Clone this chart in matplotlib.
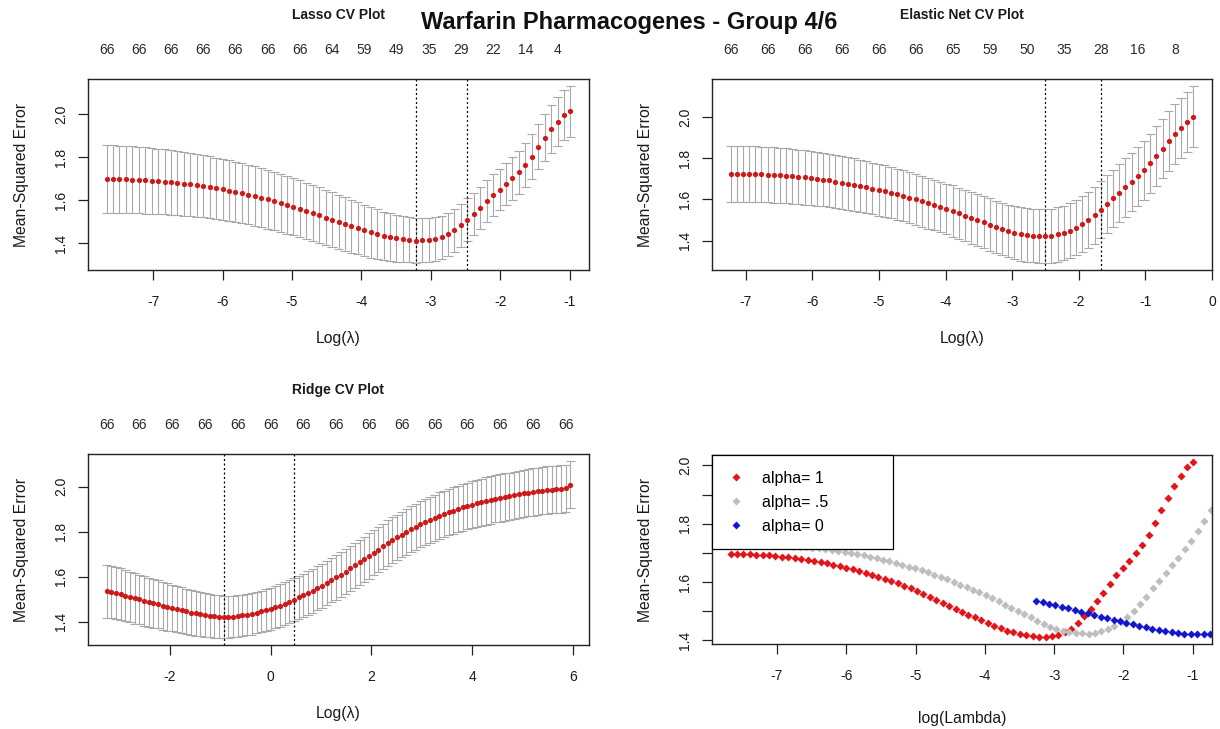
import matplotlib
matplotlib.use("Agg")
import matplotlib.pyplot as plt
import numpy as np
from matplotlib.ticker import FormatStrFormatter

plt.rcParams['font.family'] = ['Liberation Sans', 'DejaVu Sans']
plt.rcParams['axes.unicode_minus'] = False

# ---------------- data ----------------
LASSO_LOGLAM = [-7.670, -7.577, -7.484, -7.392, -7.299, -7.206, -7.113, -7.021, -6.928, -6.835,
                -6.742, -6.649, -6.557, -6.464, -6.371, -6.278, -6.186, -6.093, -6.000, -5.907,
                -5.814, -5.722, -5.629, -5.536, -5.443, -5.351, -5.258, -5.165, -5.072, -4.979,
                -4.887, -4.794, -4.701, -4.608, -4.515, -4.423, -4.330, -4.237, -4.144, -4.052,
                -3.959, -3.866, -3.773, -3.680, -3.588, -3.495, -3.402, -3.309, -3.217, -3.124,
                -3.031, -2.938, -2.845, -2.753, -2.660, -2.567, -2.474, -2.382, -2.289, -2.196,
                -2.103, -2.010, -1.918, -1.825, -1.732, -1.639, -1.546, -1.454, -1.361, -1.268,
                -1.175, -1.082, -0.990]
LASSO_CVM = [1.697, 1.697, 1.697, 1.696, 1.694, 1.693, 1.691, 1.689, 1.687, 1.685,
             1.682, 1.679, 1.675, 1.672, 1.668, 1.664, 1.659, 1.654, 1.649, 1.643,
             1.637, 1.631, 1.625, 1.618, 1.611, 1.603, 1.595, 1.587, 1.578, 1.569,
             1.559, 1.549, 1.539, 1.529, 1.518, 1.508, 1.498, 1.488, 1.478, 1.468,
             1.458, 1.449, 1.441, 1.433, 1.427, 1.422, 1.418, 1.415, 1.411, 1.412,
             1.413, 1.418, 1.427, 1.440, 1.459, 1.482, 1.508, 1.534, 1.563, 1.594,
             1.623, 1.648, 1.673, 1.700, 1.728, 1.763, 1.802, 1.848, 1.890, 1.930,
             1.965, 1.996, 2.012]
LASSO_CVSD = [0.157, 0.157, 0.156, 0.156, 0.155, 0.155, 0.154, 0.153, 0.152, 0.151,
              0.150, 0.149, 0.148, 0.147, 0.146, 0.145, 0.144, 0.143, 0.142, 0.141,
              0.140, 0.139, 0.139, 0.138, 0.137, 0.137, 0.136, 0.135, 0.135, 0.134,
              0.133, 0.132, 0.131, 0.130, 0.129, 0.128, 0.126, 0.125, 0.123, 0.121,
              0.119, 0.117, 0.115, 0.113, 0.111, 0.109, 0.107, 0.105, 0.104, 0.103,
              0.102, 0.101, 0.100, 0.100, 0.099, 0.099, 0.099, 0.098, 0.098, 0.097,
              0.097, 0.097, 0.098, 0.099, 0.100, 0.102, 0.104, 0.106, 0.108, 0.111,
              0.114, 0.116, 0.118]
LASSO_NZ = ['66', '66', '66', '66', '66', '66', '66', '64', '59', '49', '35', '29', '22', '14', '4']
LASSO_MIN_IDX, LASSO_1SE_IDX = 48, 56

ENET_LOGLAM = [-7.230, -7.137, -7.045, -6.952, -6.859, -6.767, -6.674, -6.581, -6.489, -6.396,
               -6.303, -6.211, -6.118, -6.025, -5.933, -5.840, -5.747, -5.655, -5.562, -5.469,
               -5.377, -5.284, -5.191, -5.099, -5.006, -4.913, -4.821, -4.728, -4.635, -4.543,
               -4.450, -4.357, -4.265, -4.172, -4.079, -3.987, -3.894, -3.801, -3.709, -3.616,
               -3.523, -3.431, -3.338, -3.245, -3.153, -3.060, -2.967, -2.875, -2.782, -2.689,
               -2.597, -2.504, -2.411, -2.319, -2.226, -2.133, -2.041, -1.948, -1.855, -1.763,
               -1.670, -1.577, -1.485, -1.392, -1.299, -1.207, -1.114, -1.021, -0.929, -0.836,
               -0.743, -0.651, -0.558, -0.465, -0.373, -0.280]
ENET_CVM = [1.724, 1.724, 1.724, 1.723, 1.722, 1.721, 1.720, 1.719, 1.717, 1.715,
            1.713, 1.710, 1.707, 1.704, 1.700, 1.696, 1.692, 1.687, 1.682, 1.677,
            1.671, 1.665, 1.659, 1.653, 1.647, 1.640, 1.633, 1.625, 1.617, 1.609,
            1.600, 1.591, 1.582, 1.573, 1.564, 1.554, 1.544, 1.533, 1.522, 1.511,
            1.500, 1.489, 1.478, 1.467, 1.457, 1.447, 1.439, 1.432, 1.428, 1.425,
            1.424, 1.423, 1.425, 1.430, 1.438, 1.449, 1.463, 1.480, 1.500, 1.523,
            1.550, 1.578, 1.605, 1.632, 1.658, 1.684, 1.712, 1.742, 1.775, 1.810,
            1.847, 1.883, 1.917, 1.948, 1.976, 2.002]
ENET_CVSD = [0.136, 0.136, 0.136, 0.135, 0.135, 0.135, 0.134, 0.134, 0.134, 0.133,
             0.133, 0.132, 0.132, 0.131, 0.131, 0.130, 0.130, 0.129, 0.129, 0.128,
             0.128, 0.127, 0.127, 0.126, 0.126, 0.125, 0.125, 0.124, 0.124, 0.124,
             0.123, 0.123, 0.123, 0.123, 0.123, 0.123, 0.124, 0.124, 0.125, 0.125,
             0.126, 0.126, 0.127, 0.127, 0.128, 0.128, 0.129, 0.129, 0.130, 0.130,
             0.130, 0.131, 0.131, 0.132, 0.132, 0.133, 0.134, 0.135, 0.136, 0.137,
             0.138, 0.139, 0.140, 0.141, 0.141, 0.142, 0.142, 0.143, 0.143, 0.144,
             0.144, 0.145, 0.145, 0.146, 0.147, 0.148]
ENET_NZ = ['66', '66', '66', '66', '66', '66', '65', '59', '50', '35', '28', '16', '8']
ENET_MIN_IDX, ENET_1SE_IDX = 51, 60

RIDGE_LOGLAM = [-3.260, -3.167, -3.074, -2.981, -2.888, -2.795, -2.702, -2.609, -2.516, -2.423,
                -2.330, -2.237, -2.144, -2.051, -1.958, -1.865, -1.772, -1.679, -1.586, -1.493,
                -1.399, -1.306, -1.213, -1.120, -1.027, -0.934, -0.841, -0.748, -0.655, -0.562,
                -0.469, -0.376, -0.283, -0.190, -0.097, -0.004, 0.089, 0.182, 0.275, 0.368,
                0.461, 0.554, 0.647, 0.740, 0.833, 0.926, 1.019, 1.112, 1.205, 1.298,
                1.392, 1.485, 1.578, 1.671, 1.764, 1.857, 1.950, 2.043, 2.136, 2.229,
                2.322, 2.415, 2.508, 2.601, 2.694, 2.787, 2.880, 2.973, 3.066, 3.159,
                3.252, 3.345, 3.438, 3.531, 3.624, 3.717, 3.810, 3.903, 3.996, 4.089,
                4.182, 4.275, 4.368, 4.461, 4.554, 4.647, 4.740, 4.833, 4.926, 5.019,
                5.113, 5.206, 5.299, 5.392, 5.485, 5.578, 5.671, 5.764, 5.857, 5.950]
RIDGE_CVM = [1.534, 1.531, 1.526, 1.521, 1.515, 1.509, 1.503, 1.498, 1.492, 1.486,
             1.481, 1.476, 1.470, 1.465, 1.460, 1.455, 1.450, 1.445, 1.440, 1.436,
             1.432, 1.428, 1.425, 1.423, 1.422, 1.421, 1.4215, 1.422, 1.424, 1.427,
             1.431, 1.435, 1.440, 1.445, 1.451, 1.457, 1.464, 1.471, 1.479, 1.488,
             1.497, 1.507, 1.517, 1.527, 1.537, 1.548, 1.559, 1.571, 1.583, 1.596,
             1.609, 1.622, 1.636, 1.650, 1.664, 1.678, 1.692, 1.706, 1.720, 1.734,
             1.748, 1.761, 1.774, 1.787, 1.799, 1.811, 1.822, 1.833, 1.843, 1.853,
             1.862, 1.871, 1.879, 1.887, 1.894, 1.901, 1.908, 1.914, 1.920, 1.926,
             1.931, 1.936, 1.941, 1.946, 1.950, 1.954, 1.958, 1.962, 1.966, 1.970,
             1.973, 1.976, 1.979, 1.982, 1.985, 1.987, 1.989, 1.990, 1.992, 2.009]
RIDGE_CVSD = [0.118, 0.117, 0.116, 0.115, 0.114, 0.113, 0.112, 0.111, 0.110, 0.109,
              0.108, 0.107, 0.106, 0.105, 0.104, 0.103, 0.102, 0.101, 0.100, 0.099,
              0.098, 0.097, 0.096, 0.095, 0.094, 0.094, 0.093, 0.093, 0.093, 0.093,
              0.093, 0.093, 0.093, 0.093, 0.094, 0.094, 0.094, 0.095, 0.095, 0.095,
              0.096, 0.096, 0.096, 0.097, 0.097, 0.097, 0.098, 0.098, 0.098, 0.099,
              0.099, 0.099, 0.100, 0.100, 0.100, 0.100, 0.101, 0.101, 0.101, 0.101,
              0.102, 0.102, 0.102, 0.102, 0.102, 0.103, 0.103, 0.103, 0.103, 0.103,
              0.103, 0.104, 0.104, 0.104, 0.104, 0.104, 0.104, 0.104, 0.105, 0.105,
              0.105, 0.105, 0.105, 0.105, 0.105, 0.105, 0.105, 0.105, 0.105, 0.105,
              0.105, 0.105, 0.105, 0.105, 0.105, 0.105, 0.105, 0.105, 0.105, 0.105]
RIDGE_NZ = ['66'] * 15
RIDGE_MIN_IDX, RIDGE_1SE_IDX = 25, 40

LASSO_XTICKS = [-7, -6, -5, -4, -3, -2, -1]
ENET_XTICKS = [-7, -6, -5, -4, -3, -2, -1, 0]
RIDGE_XTICKS = [-2, 0, 2, 4, 6]
CV_YTICKS = [1.4, 1.6, 1.8, 2.0]
CMP_YTICKS = [1.4, 1.5, 1.6, 1.7, 1.8, 1.9, 2.0]
CMP_YLABELS = ['1.4', '', '1.6', '', '1.8', '', '2.0']
LEGEND_LABELS = ['alpha= 1', 'alpha= .5', 'alpha= 0']

# ---------------- styling ----------------
RED = '#cc1a1a'
RED2 = '#e2151a'
GREY_BAR = '#a9a9a9'
GREY_PT = '#bebebe'
BLUE = '#1216cc'
TXT = '#1a1a1a'
TICK_FS = 10
LAB_FS = 11.3

W, H = 1220, 729
fig = plt.figure(figsize=(W / 100, H / 100), dpi=100)
fig.patch.set_facecolor('white')


def add_ax(left, top, right, bottom):
    return fig.add_axes([left / W, 1 - bottom / H, (right - left) / W, (bottom - top) / H])


def style_axes(ax):
    for sp in ax.spines.values():
        sp.set_color('#222222')
        sp.set_linewidth(1.0)
    ax.tick_params(axis='both', direction='out', length=7.5, width=0.9, color='#222222',
                   labelsize=TICK_FS, labelcolor=TXT)
    ax.tick_params(axis='x', pad=10.5)
    ax.tick_params(axis='y', pad=7, labelrotation=90)
    for lab in ax.get_yticklabels():
        lab.set_va('center')


def cv_panel(ax, loglam, cvm, cvsd, nz, step, i_min, i_1se, xticks, title, xlabel_y):
    x = np.asarray(loglam, dtype=float)
    m = np.asarray(cvm, dtype=float)
    s = np.asarray(cvsd, dtype=float)
    up, lo = m + s, m - s
    barw = 0.01 * (x.max() - x.min())
    ax.vlines(x, lo, up, color=GREY_BAR, lw=0.8, zorder=1)
    ax.hlines(up, x - barw, x + barw, color=GREY_BAR, lw=0.8, zorder=1)
    ax.hlines(lo, x - barw, x + barw, color=GREY_BAR, lw=0.8, zorder=1)
    ax.plot(x, m, 'o', color=RED, ms=3.8, mec='none', zorder=3)
    for i in (i_min, i_1se):
        ax.axvline(x[i], color='black', lw=0.9, ls=(0, (1.6, 2.0)), zorder=2)
    xr = x.max() - x.min()
    ax.set_xlim(x.min() - 0.04 * xr, x.max() + 0.04 * xr)
    yr = up.max() - lo.min()
    ax.set_ylim(lo.min() - 0.04 * yr, up.max() + 0.04 * yr)
    ax.set_xticks(xticks)
    ax.set_yticks(CV_YTICKS)
    ax.yaxis.set_major_formatter(FormatStrFormatter('%.1f'))
    style_axes(ax)
    for xi, lab in zip(x[::step], nz):
        ax.annotate(lab, xy=(xi, 1.0), xycoords=('data', 'axes fraction'),
                    xytext=(0, 21), textcoords='offset points',
                    ha='center', va='center', fontsize=TICK_FS, color='#2a2a2a')
    ax.text(0.5, 1.335, title, transform=ax.transAxes, ha='center', va='center',
            fontsize=10, fontweight='bold', color=TXT)
    ax.set_xlabel('Log(λ)', fontsize=LAB_FS, color=TXT)
    ax.xaxis.set_label_coords(0.5, xlabel_y)
    ax.set_ylabel('Mean-Squared Error', fontsize=LAB_FS, color=TXT)
    ax.yaxis.set_label_coords(-0.118, 0.5)


ax_l = add_ax(88, 79, 589, 270)
ax_e = add_ax(712, 79, 1212, 270)
ax_r = add_ax(88, 454, 589, 645)
ax_b = add_ax(712, 455, 1212, 644)

cv_panel(ax_l, LASSO_LOGLAM, LASSO_CVM, LASSO_CVSD, LASSO_NZ, 5,
         LASSO_MIN_IDX, LASSO_1SE_IDX, LASSO_XTICKS, 'Lasso CV Plot', -0.32)
cv_panel(ax_e, ENET_LOGLAM, ENET_CVM, ENET_CVSD, ENET_NZ, 6,
         ENET_MIN_IDX, ENET_1SE_IDX, ENET_XTICKS, 'Elastic Net CV Plot', -0.32)
cv_panel(ax_r, RIDGE_LOGLAM, RIDGE_CVM, RIDGE_CVSD, RIDGE_NZ, 7,
         RIDGE_MIN_IDX, RIDGE_1SE_IDX, RIDGE_XTICKS, 'Ridge CV Plot', -0.32)

# ---------------- comparison panel ----------------
ax_b.plot(LASSO_LOGLAM, LASSO_CVM, 'D', color=RED2, ms=3.8, mec='none',
          label=LEGEND_LABELS[0], zorder=2)
ax_b.plot(ENET_LOGLAM, ENET_CVM, 'D', color=GREY_PT, ms=3.8, mec='none',
          label=LEGEND_LABELS[1], zorder=2)
ax_b.plot(RIDGE_LOGLAM, RIDGE_CVM, 'D', color=BLUE, ms=3.8, mec='none',
          label=LEGEND_LABELS[2], zorder=2)
lx = np.asarray(LASSO_LOGLAM)
ly = np.asarray(LASSO_CVM)
ax_b.set_xlim(lx.min() - 0.04 * np.ptp(lx), lx.max() + 0.04 * np.ptp(lx))
ax_b.set_ylim(ly.min() - 0.04 * np.ptp(ly), ly.max() + 0.04 * np.ptp(ly))
ax_b.set_xticks(LASSO_XTICKS)
ax_b.set_yticks(CMP_YTICKS)
ax_b.set_yticklabels(CMP_YLABELS)
style_axes(ax_b)
ax_b.set_xlabel('log(Lambda)', fontsize=LAB_FS, color=TXT)
ax_b.xaxis.set_label_coords(0.5, -0.355)
ax_b.set_ylabel('Mean-Squared Error', fontsize=LAB_FS, color=TXT)
ax_b.yaxis.set_label_coords(-0.118, 0.5)
leg = ax_b.legend(loc='upper left', bbox_to_anchor=(0, 0, 0.362, 1.0), mode='expand',
                  borderaxespad=0, fontsize=11.5, frameon=True, fancybox=False,
                  framealpha=1, edgecolor='black', borderpad=0.98, labelspacing=0.56,
                  handlelength=1.04, handletextpad=1.1, numpoints=1)
leg.get_frame().set_linewidth(0.9)
leg.set_zorder(5)

fig.text(629 / W, 1 - 22 / H, 'Warfarin Pharmacogenes - Group 4/6', ha='center', va='center',
         fontsize=17, fontweight='bold', color='#111111')

fig.savefig('out.png', dpi=100, facecolor='white')
